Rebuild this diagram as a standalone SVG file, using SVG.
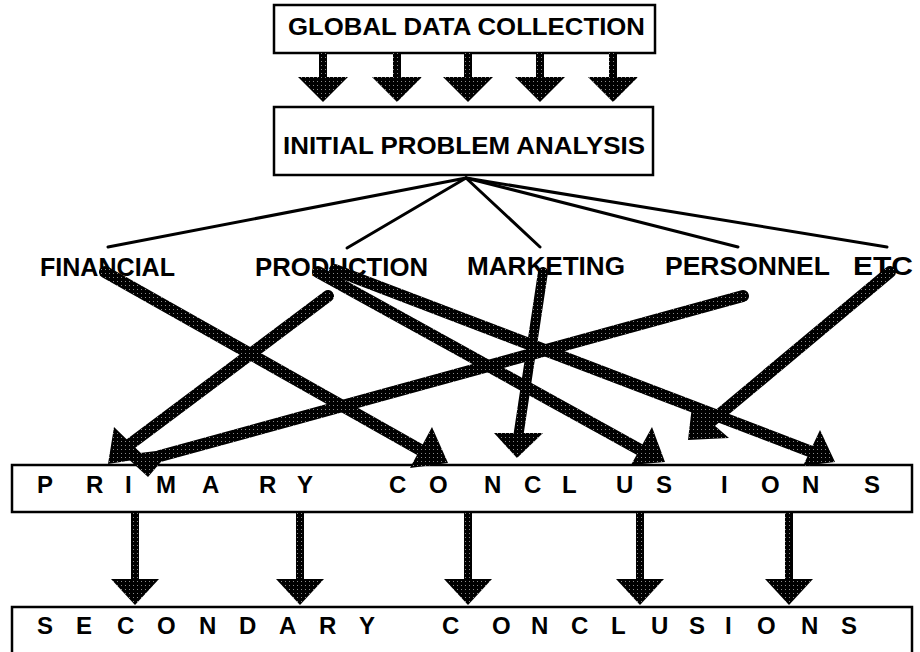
<svg xmlns="http://www.w3.org/2000/svg" width="920" height="652" viewBox="0 0 920 652">
<defs>
<pattern id="tex" width="4" height="4" patternUnits="userSpaceOnUse">
<rect width="4" height="4" fill="#000"/>
<rect x="1" y="1" width="1" height="1" fill="#8a8a8a"/>
</pattern>
<style>
.box{fill:#fff;stroke:#000;stroke-width:2.5}
.t{font-family:"Liberation Sans",Arial,Helvetica,sans-serif;font-weight:bold;fill:#000}
.thin{stroke:#000;stroke-width:3;fill:none;stroke-linecap:round}
.thick{stroke:url(#tex);stroke-width:12;fill:none;stroke-linecap:round}
.head{fill:url(#tex)}
</style>
</defs>
<rect width="920" height="652" fill="#fff"/>

<g id="global">
<rect class="box" x="274" y="5" width="381" height="48"/>
<text class="t" x="288" y="35" font-size="23" textLength="357" lengthAdjust="spacingAndGlyphs">GLOBAL DATA COLLECTION</text>
</g>
<g id="initial">
<rect class="box" x="274" y="107" width="379" height="68"/>
<text class="t" x="283" y="154" font-size="23" textLength="362" lengthAdjust="spacingAndGlyphs">INITIAL PROBLEM ANALYSIS</text>
</g>
<g id="financial"><text class="t" x="40" y="276" font-size="25" textLength="135" lengthAdjust="spacingAndGlyphs">FINANCIAL</text></g>
<g id="production"><text class="t" x="255" y="276" font-size="25" textLength="173" lengthAdjust="spacingAndGlyphs">PRODUCTION</text></g>
<g id="marketing"><text class="t" x="467" y="275" font-size="25" textLength="158" lengthAdjust="spacingAndGlyphs">MARKETING</text></g>
<g id="personnel"><text class="t" x="665" y="275" font-size="25" textLength="165" lengthAdjust="spacingAndGlyphs">PERSONNEL</text></g>
<g id="etc"><text class="t" x="853" y="275" font-size="25" textLength="60" lengthAdjust="spacingAndGlyphs">ETC</text></g>
<g id="primary">
<rect class="box" x="12" y="465" width="900" height="47"/>
<text class="t" y="493" font-size="24" x="37 86 125 156 202 259 297 340 389 429 484 524 562 616 656 721 761 802 864">PRIMARY CONCLUSIONS</text>
</g>
<g id="secondary">
<rect class="box" x="12" y="607" width="900" height="60"/>
<text class="t" y="634" font-size="24" x="37 76 117 157 199 239 279 319 359 410 442 492 531 571 611 651 689 725 757 801 841">SECONDARY CONCLUSIONS</text>
</g>

<g id="connectors">
<g class="head">
<rect x="319" y="53" width="8" height="25"/><polygon points="298,77 348,77 323,102"/>
<rect x="393" y="53" width="8" height="25"/><polygon points="372,77 422,77 397,102"/>
<rect x="464" y="53" width="8" height="25"/><polygon points="443,77 493,77 468,102"/>
<rect x="536" y="53" width="8" height="25"/><polygon points="515,77 565,77 540,102"/>
<rect x="609" y="53" width="8" height="25"/><polygon points="588,77 638,77 613,102"/>
</g>
<line class="thin" x1="466" y1="178" x2="108" y2="247"/>
<line class="thin" x1="466" y1="178" x2="347" y2="248"/>
<line class="thin" x1="466" y1="178" x2="540" y2="247"/>
<line class="thin" x1="466" y1="178" x2="738" y2="247"/>
<line class="thin" x1="466" y1="178" x2="887" y2="247"/>
<path class="thick" d="M105,272 L424,452"/>
<polygon class="head" points="432,427 448,463 410,468"/>
<path class="thick" d="M328,296 L125,448"/>
<polygon class="head" points="114,427 108,464 146,458"/>
<path class="thick" d="M743,296 L160,456"/>
<polygon class="head" points="124,455 172,449 148,477"/>
<path class="thick" d="M318,272 L644,452"/>
<polygon class="head" points="652,427 665,462 631,465"/>
<path class="thick" d="M335,270 L812,452"/>
<polygon class="head" points="820,430 835,462 803,466"/>
<path class="thick" style="stroke-width:10" d="M543,272 L518,438"/>
<polygon class="head" points="494,433 543,433 517,458"/>
<path class="thick" d="M890,272 L708,424"/>
<polygon class="head" points="692,406 688,440 729,438"/>
<g class="head">
<rect x="131" y="512" width="8" height="68"/><polygon points="111,579 159,579 135,605"/>
<rect x="296" y="512" width="8" height="68"/><polygon points="276,579 324,579 300,605"/>
<rect x="464" y="512" width="8" height="68"/><polygon points="444,579 492,579 468,605"/>
<rect x="636" y="512" width="8" height="68"/><polygon points="616,579 664,579 640,605"/>
<rect x="785" y="512" width="8" height="68"/><polygon points="765,579 813,579 789,605"/>
</g>
</g>
</svg>
